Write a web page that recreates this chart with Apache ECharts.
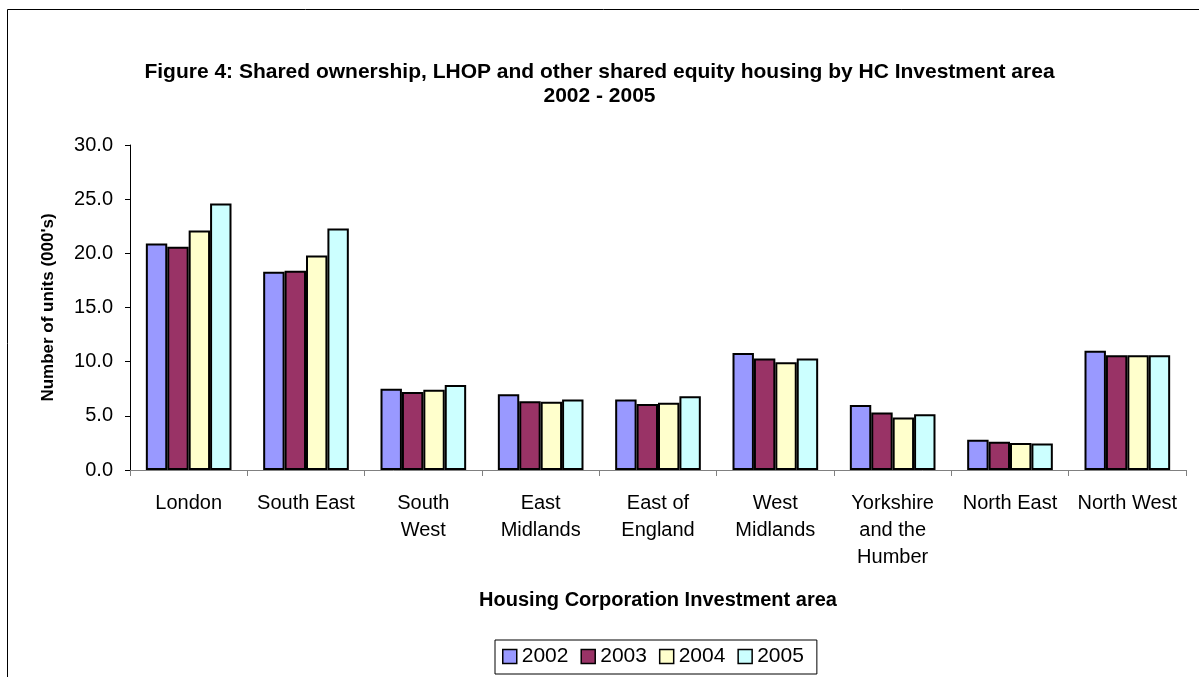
<!DOCTYPE html>
<html><head><meta charset="utf-8">
<script src="https://cdn.jsdelivr.net/npm/echarts@6/dist/echarts.min.js"></script>
<style>html,body{margin:0;padding:0;background:#fff}#c{width:1199px;height:677px}</style>
</head><body><div id="c"></div>
<script>
const categories = ['London','South East','South\nWest','East\nMidlands','East of\nEngland','West\nMidlands','Yorkshire\nand the\nHumber','North East','North West'];
const seriesNames = ['2002','2003','2004','2005'];
const v2002 = [20.9, 18.3, 7.5, 7.0, 6.5, 10.8, 6.0, 2.8, 11.0];
const v2003 = [20.6, 18.4, 7.2, 6.35, 6.1, 10.3, 5.3, 2.6, 10.6];
const v2004 = [22.1, 19.8, 7.4, 6.3, 6.2, 9.95, 4.85, 2.5, 10.6];
const v2005 = [24.6, 22.3, 7.85, 6.5, 6.8, 10.3, 5.15, 2.45, 10.6];
const colors = ['#9999FF','#993366','#FFFFCC','#CCFFFF'];
const values = [v2002, v2003, v2004, v2005];
const font = 'Arial, "Liberation Sans", sans-serif';
const chart = echarts.init(document.getElementById('c'));
chart.setOption({
  animation:false,
  textStyle:{fontFamily:font,color:'#000'},
  title:{text:'Figure 4: Shared ownership, LHOP and other shared equity housing by HC Investment area\n2002 - 2005',
    left:'center', top:60, padding:0, textStyle:{fontFamily:font,fontSize:21,fontWeight:'bold',color:'#000',lineHeight:24}},
  graphic:[{type:'rect',shape:{x:7.5,y:9.5,width:1300,height:800},style:{fill:'none',stroke:'#000',lineWidth:1},silent:true}],
  legend:{top:640,left:495,data:seriesNames,icon:'rect',itemWidth:14,itemHeight:14,itemGap:12,
    borderColor:'#000',borderWidth:1,padding:[6,13,7,7],
    itemStyle:{borderWidth:1.5,borderColor:'#000'},
    textStyle:{fontFamily:font,fontSize:21,color:'#000'}},
  grid:{left:130,right:13,top:145,bottom:207},
  xAxis:{type:'category',data:categories,
    axisLine:{lineStyle:{color:'#808080',width:1}},
    axisTick:{show:true,length:6,lineStyle:{color:'#808080'}},
    axisLabel:{fontFamily:font,fontSize:20,color:'#000',margin:20,lineHeight:27,interval:0},
    name:'Housing Corporation Investment area',nameLocation:'middle',nameGap:120,
    nameTextStyle:{fontFamily:font,fontSize:20,fontWeight:'bold',color:'#000'}},
  yAxis:{type:'value',min:0,max:30,interval:5,
    axisLine:{show:true,lineStyle:{color:'#000',width:1}},
    axisTick:{show:true,length:5,lineStyle:{color:'#000'}},
    splitLine:{show:false},
    axisLabel:{fontFamily:font,fontSize:20,color:'#000',margin:17,formatter:v=>v.toFixed(1)},
    name:"Number of units (000's)",nameLocation:'middle',nameGap:73,
    nameTextStyle:{fontFamily:font,fontSize:17,fontWeight:'bold',color:'#000'}},
  series: seriesNames.map((n,i)=>({name:n,type:'bar',data:values[i],barGap:'0%',barCategoryGap:'27%',
    itemStyle:{color:colors[i],borderColor:'#000',borderWidth:2}}))
});
</script></body></html>
